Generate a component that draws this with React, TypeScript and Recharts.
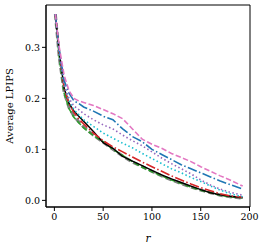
import React from "react";
import {
  LineChart,
  Line,
  XAxis,
  YAxis,
  ReferenceArea,
  Label,
} from "recharts";

const rValues = [1, 5, 10, 15, 20, 25, 30, 40, 50, 60, 70, 80, 90, 100, 110, 120, 130, 140, 150, 160, 170, 180, 193];

const pink = [0.365, 0.3, 0.245, 0.215, 0.2, 0.195, 0.192, 0.186, 0.178, 0.17, 0.16, 0.14, 0.12, 0.11, 0.102, 0.092, 0.084, 0.076, 0.066, 0.057, 0.048, 0.04, 0.028];
const blue = [0.365, 0.295, 0.235, 0.21, 0.195, 0.19, 0.183, 0.175, 0.165, 0.158, 0.14, 0.125, 0.115, 0.1, 0.09, 0.08, 0.07, 0.062, 0.054, 0.046, 0.038, 0.031, 0.022];
const purple = [0.365, 0.29, 0.225, 0.2, 0.185, 0.178, 0.17, 0.158, 0.148, 0.14, 0.128, 0.117, 0.107, 0.095, 0.083, 0.072, 0.062, 0.052, 0.04, 0.03, 0.022, 0.016, 0.01];
const cyan = [0.365, 0.285, 0.225, 0.195, 0.178, 0.168, 0.158, 0.145, 0.132, 0.122, 0.112, 0.103, 0.092, 0.082, 0.072, 0.062, 0.054, 0.045, 0.037, 0.028, 0.02, 0.013, 0.007];
const red = [0.365, 0.29, 0.22, 0.19, 0.172, 0.16, 0.15, 0.132, 0.117, 0.105, 0.095, 0.085, 0.075, 0.066, 0.057, 0.048, 0.04, 0.032, 0.025, 0.019, 0.013, 0.009, 0.006];
const black = [0.365, 0.29, 0.22, 0.19, 0.175, 0.165, 0.155, 0.135, 0.113, 0.102, 0.086, 0.077, 0.068, 0.059, 0.05, 0.042, 0.035, 0.028, 0.021, 0.015, 0.011, 0.008, 0.005];
const green = [0.365, 0.28, 0.21, 0.18, 0.163, 0.152, 0.142, 0.127, 0.115, 0.1, 0.088, 0.076, 0.065, 0.056, 0.048, 0.04, 0.033, 0.026, 0.02, 0.015, 0.01, 0.007, 0.005];
const gray = [0.365, 0.28, 0.212, 0.182, 0.165, 0.154, 0.144, 0.128, 0.114, 0.1, 0.087, 0.075, 0.066, 0.057, 0.048, 0.04, 0.033, 0.026, 0.02, 0.015, 0.01, 0.007, 0.004];

const xTicks = [0, 50, 100, 150, 200];
const yTicks = [0, 0.1, 0.2, 0.3];

const data = rValues.map((r, i) => ({
  r,
  pink: pink[i],
  blue: blue[i],
  purple: purple[i],
  cyan: cyan[i],
  red: red[i],
  black: black[i],
  green: green[i],
  gray: gray[i],
}));

const font = "DejaVu Serif";
const tickStyle = { fill: "#000", fontSize: 9.5, fontFamily: font };

export default function App() {
  return (
    <div style={{ position: "absolute", left: 0, top: 0 }}>
      <LineChart
        width={265}
        height={249}
        data={data}
        margin={{ top: 5, right: 15, left: 0, bottom: 0 }}
      >
        <XAxis
          dataKey="r"
          type="number"
          domain={[-8.6, 200.5]}
          ticks={xTicks}
          tick={tickStyle}
          tickSize={4}
          axisLine={{ stroke: "#000" }}
          tickLine={{ stroke: "#000" }}
          height={42}
        >
          <Label
            value="r"
            position="insideBottom"
            offset={7}
            style={{ fontFamily: font, fontStyle: "italic", fontSize: 10.5, fill: "#000" }}
          />
        </XAxis>
        <YAxis
          type="number"
          domain={[-0.013, 0.383]}
          ticks={yTicks}
          tickFormatter={(v: number) => v.toFixed(1)}
          tick={tickStyle}
          tickSize={4}
          axisLine={{ stroke: "#000" }}
          tickLine={{ stroke: "#000" }}
          width={46}
        >
          <Label
            value="Average LPIPS"
            angle={-90}
            position="insideLeft"
            offset={9}
            style={{ fontFamily: font, fontSize: 10, fill: "#000", textAnchor: "middle" }}
          />
        </YAxis>
        <ReferenceArea
          x1={-8.6}
          x2={200.5}
          y1={-0.013}
          y2={0.383}
          fill="none"
          stroke="#000"
          strokeWidth={1}
          ifOverflow="visible"
        />
        <Line dataKey="gray" stroke="#7f7f7f" strokeWidth={3} strokeDasharray="6 3" dot={false} isAnimationActive={false} />
        <Line dataKey="green" stroke="#2ca02c" strokeWidth={1.6} strokeDasharray="5.5 2.4" dot={false} isAnimationActive={false} />
        <Line dataKey="black" stroke="#000" strokeWidth={1.4} dot={false} isAnimationActive={false} />
        <Line dataKey="red" stroke="#d62728" strokeWidth={1.6} strokeDasharray="9.6 2.4 1.5 2.4" dot={false} isAnimationActive={false} />
        <Line dataKey="cyan" stroke="#17becf" strokeWidth={1.6} strokeDasharray="1.5 2.5" dot={false} isAnimationActive={false} />
        <Line dataKey="purple" stroke="#9467bd" strokeWidth={1.6} strokeDasharray="1.5 2.5" dot={false} isAnimationActive={false} />
        <Line dataKey="blue" stroke="#1f77b4" strokeWidth={1.6} strokeDasharray="9.6 2.4 1.5 2.4" dot={false} isAnimationActive={false} />
        <Line dataKey="pink" stroke="#e377c2" strokeWidth={1.6} strokeDasharray="5.5 2.4" dot={false} isAnimationActive={false} />
      </LineChart>
    </div>
  );
}
